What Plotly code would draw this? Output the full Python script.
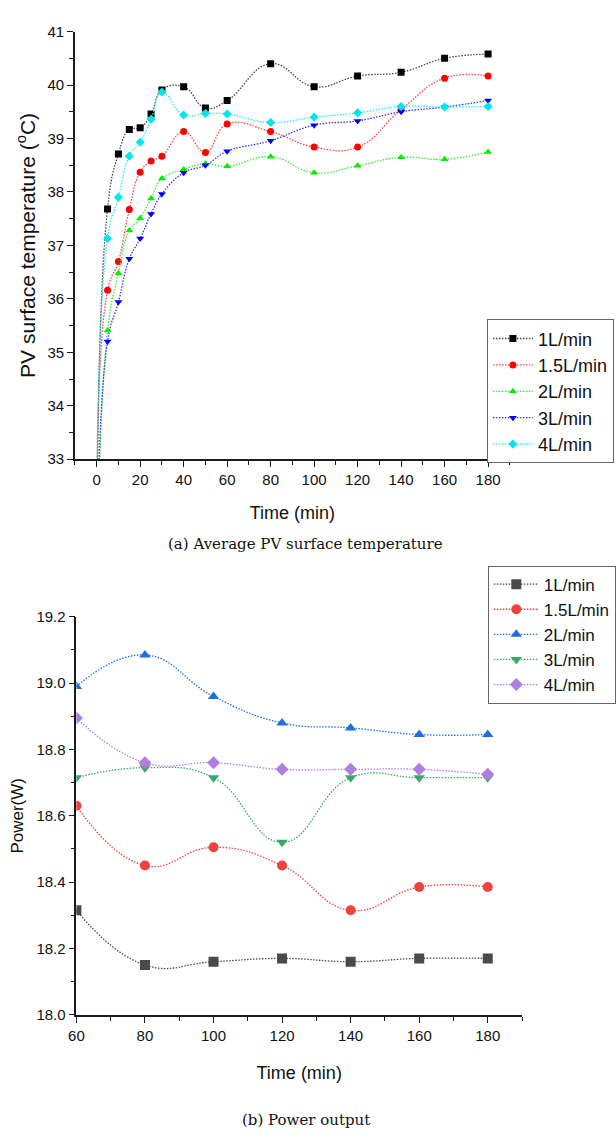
import plotly.graph_objects as go

# ---- (a) Average PV surface temperature ----
time_a = [0, 5, 10, 15, 20, 25, 30, 40, 50, 60, 80, 100, 120, 140, 160, 180]
temp_1 = [30.8, 37.68, 38.71, 39.17, 39.20, 39.46, 39.91, 39.97, 39.57, 39.71, 40.40, 39.97, 40.17, 40.24, 40.50, 40.58]
temp_15 = [30.5, 36.16, 36.70, 37.67, 38.37, 38.58, 38.67, 39.13, 38.74, 39.27, 39.13, 38.84, 38.84, 39.54, 40.13, 40.17]
temp_2 = [30.0, 35.41, 36.48, 37.28, 37.51, 37.88, 38.25, 38.42, 38.53, 38.48, 38.66, 38.36, 38.49, 38.65, 38.61, 38.75]
temp_3 = [30.3, 35.20, 35.94, 36.75, 37.13, 37.59, 37.96, 38.36, 38.50, 38.76, 38.96, 39.25, 39.33, 39.50, 39.59, 39.71]
temp_4 = [30.6, 37.13, 37.90, 38.67, 38.93, 39.36, 39.87, 39.44, 39.47, 39.46, 39.30, 39.40, 39.48, 39.60, 39.59, 39.60]

# ---- (b) Power output ----
time_b = [60, 80, 100, 120, 140, 160, 180]
power_1 = [18.315, 18.150, 18.160, 18.170, 18.160, 18.170, 18.170]
power_15 = [18.630, 18.450, 18.505, 18.450, 18.315, 18.385, 18.385]
power_2 = [18.990, 19.085, 18.960, 18.880, 18.865, 18.845, 18.845]
power_3 = [18.715, 18.745, 18.715, 18.520, 18.715, 18.715, 18.715]
power_4 = [18.895, 18.760, 18.760, 18.740, 18.740, 18.740, 18.725]

flow_labels = ["1L/min", "1.5L/min", "2L/min", "3L/min", "4L/min"]

colors_a = ["#000000", "#ff0000", "#00ee00", "#0000ff", "#00e5ee"]
line_a = ["#444444", "#ff4040", "#30f030", "#3030ff", "#20f0f0"]
symbols_a = ["square", "circle", "triangle-up", "triangle-down", "diamond"]

colors_b = ["#4a4a4a", "#f04040", "#1f6fdf", "#38a868", "#b07de0"]
symbols_b = ["square", "circle", "triangle-up", "triangle-down", "diamond"]

FONT = "Liberation Sans, Arial, sans-serif"
SERIF = "DejaVu Serif, serif"
AXIS_COLOR = "#1a1a1a"
DOTS = "1.5px,1.5px"

fig = go.Figure()

for label, ys, c, lc, sym in zip(flow_labels, [temp_1, temp_15, temp_2, temp_3, temp_4],
                                 colors_a, line_a, symbols_a):
    fig.add_trace(go.Scatter(
        x=time_a, y=ys, name=label, mode="lines+markers",
        line=dict(color=lc, width=1.3, dash=DOTS, shape="spline", smoothing=1.3),
        marker=dict(symbol=sym, size=7, color=c, line=dict(width=0)),
        xaxis="x", yaxis="y", legend="legend", cliponaxis=True,
    ))

for label, ys, c, sym in zip(flow_labels, [power_1, power_15, power_2, power_3, power_4],
                             colors_b, symbols_b):
    fig.add_trace(go.Scatter(
        x=time_b, y=ys, name=label, mode="lines+markers",
        line=dict(color=c, width=1.3, dash=DOTS, shape="spline", smoothing=1.3),
        marker=dict(symbol=sym, size=10, color=c, line=dict(width=0)),
        xaxis="x2", yaxis="y2", legend="legend2", cliponaxis=True,
    ))

common_axis = dict(
    showline=True, linecolor=AXIS_COLOR, linewidth=1.5, mirror=False,
    ticks="outside", ticklen=6, tickwidth=1.3, tickcolor=AXIS_COLOR,
    showgrid=False, zeroline=False,
    tickfont=dict(family=FONT, size=15, color="#111111"),
)

fig.update_layout(
    width=616, height=1138,
    margin=dict(l=0, r=0, t=0, b=0),
    paper_bgcolor="white", plot_bgcolor="white",
    font=dict(family=FONT, color="#111111"),
    xaxis=dict(
        **common_axis, domain=[0.1112, 0.8336], range=[-10, 190],
        tickmode="linear", tick0=0, dtick=20,
        minor=dict(ticks="outside", ticklen=4, tickwidth=1.2, tickcolor=AXIS_COLOR, dtick=10, tick0=0),
        title=dict(text="Time (min)", font=dict(family=FONT, size=18), standoff=19),
        anchor="y",
    ),
    yaxis=dict(
        **common_axis, domain=[0.5984, 0.9798], range=[33, 41],
        tickmode="linear", tick0=33, dtick=1,
        minor=dict(ticks="outside", ticklen=4, tickwidth=1.2, tickcolor=AXIS_COLOR, dtick=0.5, tick0=33),
        title=dict(text="PV surface temperature (<sup>o</sup>C)", font=dict(family=FONT, size=21), standoff=6),
        anchor="x",
    ),
    xaxis2=dict(
        **common_axis, domain=[0.1136, 0.8539], range=[60, 190],
        tickmode="linear", tick0=60, dtick=20,
        minor=dict(ticks="outside", ticklen=4, tickwidth=1.2, tickcolor=AXIS_COLOR, dtick=10, tick0=60),
        title=dict(text="Time (min)", font=dict(family=FONT, size=18), standoff=24),
        anchor="y2",
    ),
    yaxis2=dict(
        **common_axis, domain=[0.1028, 0.4578], range=[18.0, 19.2],
        tickmode="linear", tick0=18.0, dtick=0.2, tickformat=".1f",
        minor=dict(ticks="outside", ticklen=4, tickwidth=1.2, tickcolor=AXIS_COLOR, dtick=0.1, tick0=18.0),
        title=dict(text="Power(W)", font=dict(family=FONT, size=17), standoff=8),
        anchor="x2",
    ),
    legend=dict(
        x=0.7955, y=0.7232, xanchor="left", yanchor="top",
        bgcolor="white", bordercolor="#666666", borderwidth=1,
        font=dict(family=FONT, size=18, color="#111111"),
        itemwidth=40, tracegroupgap=0,
    ),
    legend2=dict(
        x=0.797, y=0.5035, xanchor="left", yanchor="top",
        bgcolor="white", bordercolor="#666666", borderwidth=1,
        font=dict(family=FONT, size=17, color="#111111"),
        itemwidth=45, tracegroupgap=0,
    ),
    showlegend=True,
)

fig.add_annotation(
    text="(a) Average PV surface temperature", xref="paper", yref="paper",
    x=0.495, y=1 - 543 / 1138, xanchor="center", yanchor="middle", showarrow=False,
    font=dict(family=SERIF, size=15, color="#111111"),
)
fig.add_annotation(
    text="(b) Power output", xref="paper", yref="paper",
    x=0.495, y=1 - 1128 / 1138, xanchor="center", yanchor="middle", showarrow=False,
    font=dict(family=SERIF, size=15, color="#111111"),
)

fig.write_html("out.html")
